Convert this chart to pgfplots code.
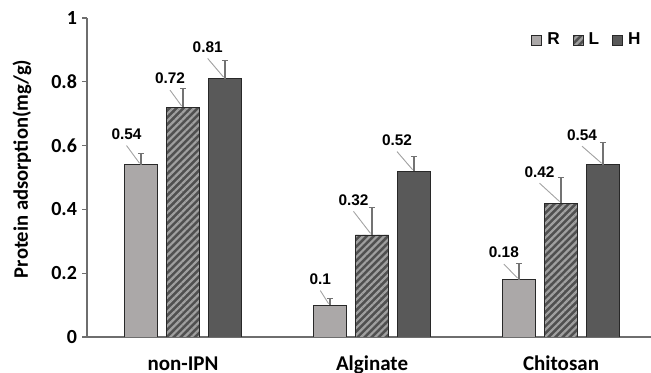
\documentclass[border=0pt]{standalone}
\usepackage{fontspec}
\setmainfont{Carlito}
\newfontfamily\arialf{Liberation Sans}
\usepackage{pgfplots}
\pgfplotsset{compat=1.18}
\usepackage{pgfplotstable}
\usetikzlibrary{patterns.meta}

\definecolor{Rgray}{RGB}{171,168,168}
\definecolor{Hgray}{RGB}{89,89,89}
\definecolor{Ldark}{RGB}{80,80,80}
\definecolor{Lstripe}{RGB}{160,160,160}
\definecolor{axisgray}{RGB}{110,110,110}
\definecolor{errgray}{RGB}{115,115,115}
\definecolor{leadgray}{RGB}{165,165,165}
\definecolor{barline}{RGB}{40,40,40}

\pgfplotstableread{
x y err dx dy
0 0.54 0.035 -7.25 15.35
1 0.10 0.020 -4.85 13.0
2 0.18 0.050 -7.6 13.5
}\tabR
\pgfplotstableread{
x y err dx dy
0 0.72 0.060 -6.5 14.35
1 0.32 0.085 -9.25 17.5
2 0.42 0.080 -10.75 15.65
}\tabL
\pgfplotstableread{
x y err dx dy
0 0.81 0.058 -8.65 15.8
1 0.52 0.047 -8.5 15.5
2 0.54 0.070 -10.5 15.0
}\tabH

\pgfplotsset{
  mylegend/.style={legend image code/.code={\draw[##1, line width=0.4pt] (0pt,-2.5pt) rectangle (5pt,2.5pt);}},
}

\begin{document}
\begin{tikzpicture}
\begin{axis}[
  scale only axis, width=282pt, height=159.5pt,
  ybar=4.25pt, bar width=16.75pt,
  xmin=-0.508, xmax=2.476, ymin=0, ymax=1,
  xtick={0,1,2}, xticklabels={non-IPN,Alginate,Chitosan},
  ytick={0,0.2,0.4,0.6,0.8,1},
  yticklabels={0,0.2,0.4,0.6,0.8,1},
  axis x line*=bottom, axis y line*=left,
  axis line style={axisgray, line width=0.7pt},
  major x tick style={draw=none},
  ytick style={axisgray, line width=0.6pt},
  tick align=outside, major tick length=2.5pt,
  yticklabel style={font=\bfseries\fontsize{10}{12}\selectfont, xshift=1pt},
  xticklabel style={font=\bfseries\fontsize{10.5}{12}\selectfont, anchor=base, yshift=-14pt},
  ylabel={Protein adsorption(mg/g)},
  ylabel style={font=\bfseries\fontsize{10.3}{12}\selectfont, at={(axis description cs:-0.1152,0.527)}, anchor=center},
  legend style={draw=none, fill=none, at={(axis description cs:1.0,0.931)}, anchor=east,
    font=\arialf\bfseries\fontsize{8.6}{9}\selectfont, legend columns=-1,
    /tikz/every odd column/.append style={column sep=0.6pt},
    /tikz/every even column/.append style={column sep=4.5pt}},
  visualization depends on={\thisrow{dx}\as\lblx},
  visualization depends on={\thisrow{dy}\as\lbly},
  nodes near coords={\pgfmathprintnumber[assume math mode=true]{\pgfplotspointmeta}},
  every node near coord/.append style={
    font=\arialf\bfseries\fontsize{7.7}{9}\selectfont, text=black,
    anchor=center, xshift=\lblx pt, yshift=\lbly pt, inner sep=0pt,
    append after command={(\tikzlastnode.center) ++(0pt,-5.75pt) edge[draw=leadgray, line width=0.45pt] ++({-0.75pt-(\lblx pt)},{6.5pt-(\lbly pt)})}
  },
  error bars/y dir=plus, error bars/y explicit,
  error bars/error bar style={errgray, line width=0.55pt},
  error bars/error mark options={rotate=90, mark size=1.6pt, errgray, line width=0.55pt},
]
\addplot[draw=barline, line width=0.4pt, fill=Rgray, mylegend]
  table[x=x, y=y, y error=err] {\tabR};
\addlegendentry{R}
\addplot[draw=barline, line width=0.4pt, preaction={fill=Ldark},
  pattern={Lines[angle=45, distance=2.5pt, line width=1.1pt]}, pattern color=Lstripe, mylegend]
  table[x=x, y=y, y error=err] {\tabL};
\addlegendentry{L}
\addplot[draw=barline, line width=0.4pt, fill=Hgray, mylegend]
  table[x=x, y=y, y error=err] {\tabH};
\addlegendentry{H}
\end{axis}
\pgfresetboundingbox
\path[use as bounding box] ([xshift=-43.5pt,yshift=-18pt]current axis.south west) rectangle ([yshift=9pt]current axis.north east);
\end{tikzpicture}
\end{document}
